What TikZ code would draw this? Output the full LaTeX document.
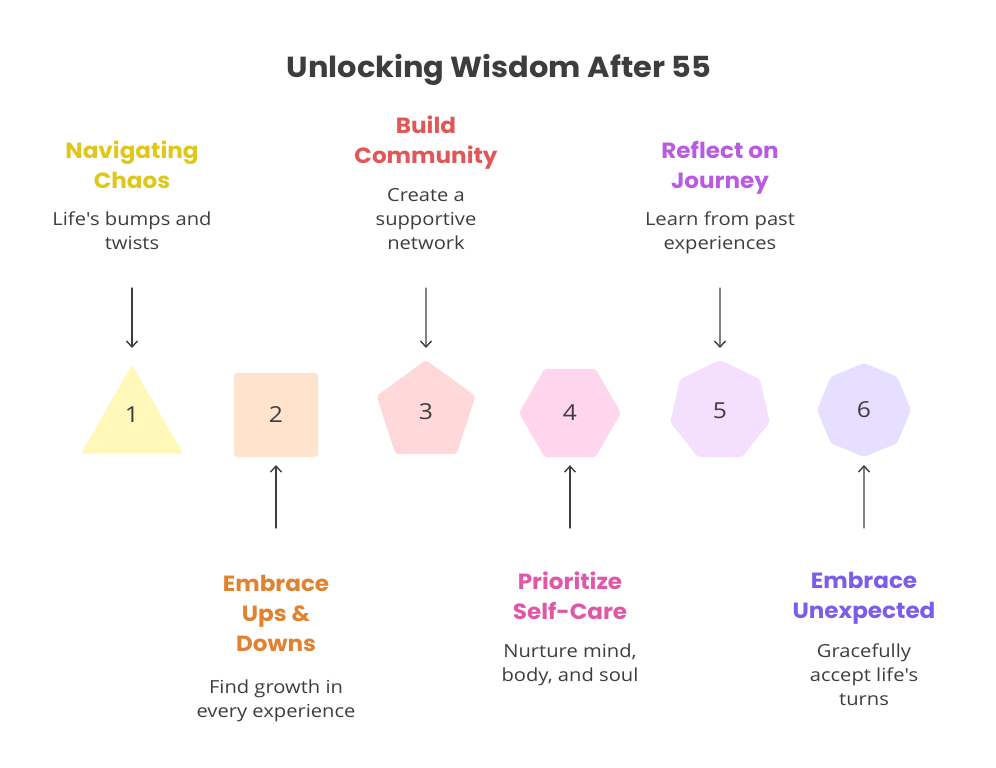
\documentclass[tikz,border=0pt]{standalone}
\usepackage{fontspec}
\setmainfont{Open Sans}[FakeStretch=1.12]
\newfontfamily\headfont{Poppins}[BoldFont={* Bold}, FakeStretch=1.05]
\usetikzlibrary{shapes.geometric,arrows.meta}
\definecolor{ink}{HTML}{3D3D3D}
\definecolor{colA}{HTML}{DFC71B}
\definecolor{colB}{HTML}{E0822F}
\definecolor{colC}{HTML}{E05757}
\definecolor{colD}{HTML}{E057A8}
\definecolor{colE}{HTML}{B95BE2}
\definecolor{colF}{HTML}{7A5DE8}
\definecolor{fillA}{HTML}{FFF8B8}
\definecolor{fillB}{HTML}{FFE3CC}
\definecolor{fillC}{HTML}{FFD9D9}
\definecolor{fillD}{HTML}{FFD6EE}
\definecolor{fillE}{HTML}{F5DFFF}
\definecolor{fillF}{HTML}{E6DFFF}
\begin{document}
\begin{tikzpicture}[x=1pt, y=-1pt, line cap=round]
  \tikzset{shp/.style={regular polygon, inner sep=0pt, outer sep=0pt, rounded corners=3pt, text=ink, font=\fontsize{22}{26}\selectfont},
    ttl/.style={anchor=north, inner sep=0pt, align=center, font=\headfont\bfseries\fontsize{22}{30}\selectfont},
    dsc/.style={anchor=north, inner sep=0pt, align=center, text=ink, font=\fontsize{18}{24}\selectfont},
    arr/.style={draw=ink, line width=1.4pt, -{Straight Barb[length=6pt, width=11pt]}}}
  \useasboundingbox (0,0) rectangle (996,768);
  % titel
  \node[text=ink, font=\headfont\bfseries\fontsize{29}{32}\selectfont] (head) at (499,70) {Unlocking Wisdom After 55};
  % vormen
  \node[shp, regular polygon sides=3, minimum size=118, fill=fillA, label={[text=ink, font=\fontsize{22}{26}\selectfont, yshift=9pt]center:1}] (s1) at (132,424) {};
  \node[shp, rectangle, minimum size=84, fill=fillB] (s2) at (276,415) {2};
  \node[shp, regular polygon sides=5, minimum size=104, fill=fillC] (s3) at (426,412) {3};
  \node[shp, regular polygon sides=6, minimum size=102, fill=fillD] (s4) at (570,413) {4};
  \node[shp, regular polygon sides=7, minimum size=102, fill=fillE] (s5) at (720,411) {5};
  \node[shp, regular polygon sides=8, shape border rotate=22.5, minimum size=94, fill=fillF] (s6) at (864,410) {6};
  % bovenste teksten
  \node[ttl, text=colA] (t1) at (132,141) {Navigating\\Chaos};
  \node[dsc] (d1) at (132,212) {Life\textquotesingle s bumps and\\twists};
  \node[ttl, text=colC] (t3) at (426,116) {Build\\Community};
  \node[dsc] (d3) at (426,188) {Create a\\supportive\\network};
  \node[ttl, text=colE] (t5) at (720,141) {Reflect on\\Journey};
  \node[dsc] (d5) at (720,212) {Learn from past\\experiences};
  % onderste teksten
  \node[ttl, text=colB] (t2) at (276,575) {Embrace\\Ups \&\\Downs};
  \node[dsc] (d2) at (276,680) {Find growth in\\every experience};
  \node[ttl, text=colD] (t4) at (570,572) {Prioritize\\Self-Care};
  \node[dsc] (d4) at (570,644) {Nurture mind,\\body, and soul};
  \node[ttl, text=colF] (t6) at (864,572) {Embrace\\Unexpected};
  \node[dsc] (d6) at (864,644) {Gracefully\\accept life\textquotesingle s\\turns};
  % pijlen
  \foreach \i/\x/\gap in {1/132/17, 3/426/12, 5/720/12} {
    \coordinate (a\i) at (\x,288);
    \draw[arr, shorten >=\gap pt] (a\i) -- (s\i);
  }
  \foreach \i/\x in {2/276, 4/570, 6/864} {
    \coordinate (a\i) at (\x,528);
    \draw[arr, shorten >=8pt] (a\i) -- (s\i);
  }
\end{tikzpicture}
\end{document}
